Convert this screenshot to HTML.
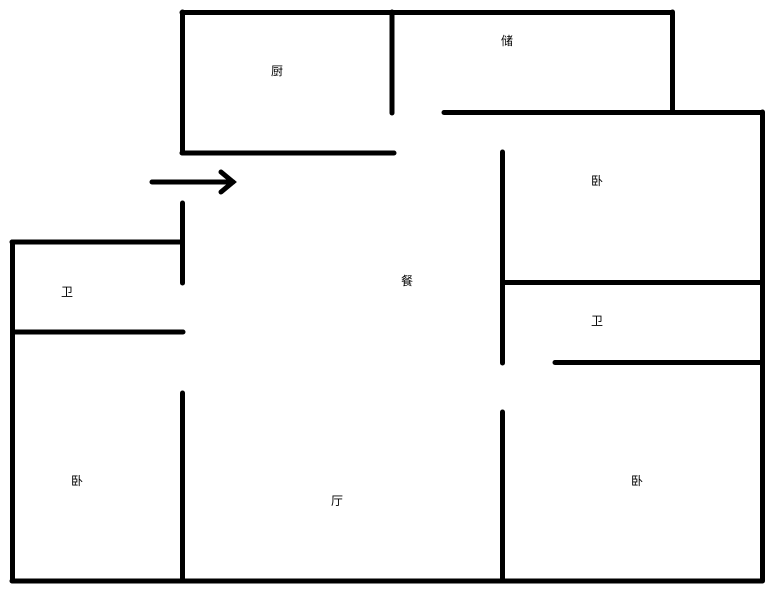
<!DOCTYPE html>
<html><head><meta charset="utf-8"><style>
html,body{margin:0;padding:0;background:#fff;width:771px;height:591px;overflow:hidden}
svg{display:block}
text{font-family:"Liberation Sans","Noto Sans CJK SC",sans-serif;font-size:12px;fill:#000}
</style></head><body>
<svg width="771" height="591" viewBox="0 0 771 591">
<g stroke="#000" stroke-width="5" stroke-linecap="round" fill="none">
<line x1="182" y1="12.5" x2="672" y2="12.5"/>
<line x1="182.5" y1="12" x2="182.5" y2="153"/>
<line x1="392" y1="12" x2="392" y2="113"/>
<line x1="672.5" y1="12" x2="672.5" y2="112"/>
<line x1="444" y1="112.5" x2="762" y2="112.5"/>
<line x1="762.5" y1="112" x2="762.5" y2="581"/>
<line x1="182" y1="153" x2="394" y2="153"/>
<line x1="152" y1="182" x2="233" y2="182"/>
<polyline points="221,172 233,182 221,192"/>
<line x1="182.5" y1="203" x2="182.5" y2="283"/>
<line x1="12" y1="242" x2="182" y2="242"/>
<line x1="12.5" y1="242" x2="12.5" y2="581"/>
<line x1="13" y1="332" x2="183" y2="332"/>
<line x1="182.5" y1="393" x2="182.5" y2="581"/>
<line x1="12" y1="581" x2="762" y2="581"/>
<line x1="502.5" y1="152" x2="502.5" y2="363"/>
<line x1="504" y1="282.5" x2="762" y2="282.5"/>
<line x1="555" y1="362.5" x2="762" y2="362.5"/>
<line x1="502.5" y1="412" x2="502.5" y2="581"/>
</g>
<text x="271" y="75">厨</text>
<text x="501" y="45">储</text>
<text x="591" y="185">卧</text>
<text x="401" y="285">餐</text>
<text x="61" y="296">卫</text>
<text x="591" y="325">卫</text>
<text x="71" y="485">卧</text>
<text x="331" y="505">厅</text>
<text x="631" y="485">卧</text>
</svg>
</body></html>
